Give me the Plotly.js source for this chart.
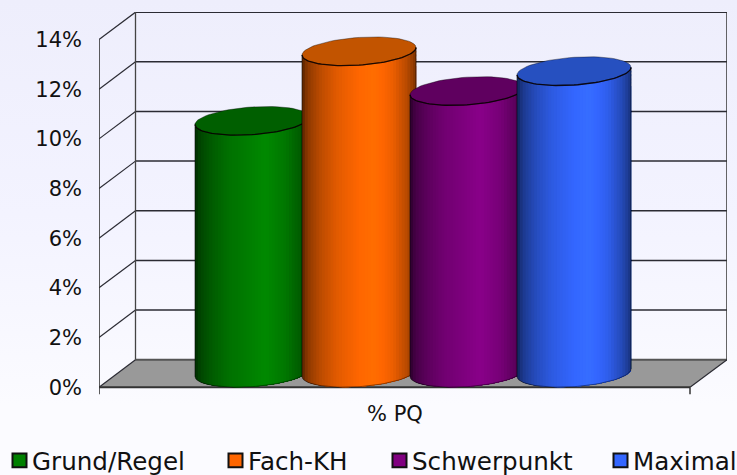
<!DOCTYPE html>
<html><head><meta charset="utf-8">
<script src="https://cdn.plot.ly/plotly-3.0.1.min.js"></script>
<style>html,body{margin:0;padding:0;width:737px;height:475px;overflow:hidden;background:linear-gradient(180deg,#eeeefc 0%,#f3f3ff 45%,#fbfbff 85%,#fbfbff 100%)}#c{width:737px;height:475px}</style>
</head><body><div id="c"></div>
<script>
// data
const categories = ['Grund/Regel','Fach-KH','Schwerpunkt','Maximal'];
const values = [10.15, 12.95, 11.35, 12.15];
const baseColors = [[0,128,0],[255,102,0],[128,0,128],[51,102,255]];
const capColors = ['#005f00','#c25400','#5f005f','#2650c0'];
const yTicks = [0,2,4,6,8,10,12,14];
const axisLabel = '% PQ';
// geometry in axis units (x axis runs in layout units, y axis in percent)
const pxPerPct = 24.89, X0 = 99, X1 = 690, XB = 727, backX = 135.5, depth = 27.5/pxPerPct;
const centers = [252, 359, 467, 574];
const rA = 55, rDx = 15, rDy = 14.4/pxPerPct, baseY = 14.4/pxPerPct;
const R = Math.hypot(rA, rDx), phi = Math.atan2(rDx, rA);
const swatchLeft = [12.5, 228.5, 392.5, 613.5], legendTextX = [33, 249, 413, 634];
const plotLeft = 99, plotW = 628, plotTop = 11.5, plotBottom = 412.5, yMin = -1;
const px = p => (p-plotLeft)/plotW, py = p => (plotBottom-p)/(plotBottom-plotTop);

const traces = [];
const line = (x,y,w,c) => traces.push({x,y,mode:'lines',line:{color:c||'#2b2b33',width:w||1.5},hoverinfo:'skip',showlegend:false,cliponaxis:false});
const poly = (x,y,fc) => traces.push({x,y,mode:'lines',fill:'toself',fillcolor:fc,line:{width:0,color:fc},hoverinfo:'skip',showlegend:false,cliponaxis:false});

// floor
poly([X0,X1,XB,backX,X0],[0,0,depth,depth,0],'#999999');
line([backX,XB],[depth,depth],2,'#555');
// back wall and left wall grid
yTicks.forEach(v=>{
  if(v>0) line([backX,XB],[v+depth,v+depth],1.5);
  if(v>0) line([X0,backX],[v,v+depth],1.2);
  line([X0-6,X0],[v,v],1.5,'#333');
});
line([backX,backX],[depth,14+depth],1.3,'#444');
line([XB,XB],[depth,14+depth],1.5,'#333');
line([X0,X0],[-7/pxPerPct,14],1.6,'#333');
line([X0,backX],[0,depth],1.2);
line([X1,XB],[0,depth],1.2);
line([X1,X1],[-7/pxPerPct,0],1.5,'#333');
line([X0,X1],[0,0],2,'#333');

// cylinders
function shade(u){
  const s=[[0,.35],[.05,.55],[.15,.72],[.3,.88],[.5,1],[.62,1.07],[.8,.92],[.92,.72],[1,.5]];
  for(let i=1;i<s.length;i++) if(u<=s[i][0]){const f=(u-s[i-1][0])/(s[i][0]-s[i-1][0]);return s[i-1][1]+f*(s[i][1]-s[i-1][1]);}
  return .5;
}
const ellX=(cx,t)=>cx+rA*Math.cos(t)+rDx*Math.sin(t);
const ellY=(cy,t)=>cy+rDy*Math.sin(t);
const N=40, M=40;
values.forEach((v,k)=>{
  const cx=centers[k], bot=baseY, top=baseY+v, c=baseColors[k];
  for(let i=0;i<N;i++){
    const u=i/N, th0=Math.acos(1-2*u);
    const ts=[];
    for(let j=0;j<=M;j++){ts.push(phi-Math.PI+th0+(Math.PI-th0)*j/M);}
    const xs=[],ys=[];
    ts.forEach(t=>{xs.push(ellX(cx,t));ys.push(ellY(bot,t));});
    ts.slice().reverse().forEach(t=>{xs.push(ellX(cx,t));ys.push(ellY(top,t));});
    xs.push(xs[0]);ys.push(ys[0]);
    const s=shade((i+.5)/N);
    poly(xs,ys,'rgb('+c.map(q=>Math.min(255,Math.round(q*s))).join(',')+')');
  }
  // cap
  const cxs=[],cys=[];
  for(let j=0;j<=72;j++){const t=j/72*2*Math.PI;cxs.push(ellX(cx,t));cys.push(ellY(top,t));}
  poly(cxs,cys,capColors[k]);
  // outlines
  const fxT=[],fyT=[],fxB=[],fyB=[];
  for(let j=0;j<=48;j++){const t=phi-Math.PI+Math.PI*j/48;fxT.push(ellX(cx,t));fyT.push(ellY(top,t));fxB.push(ellX(cx,t));fyB.push(ellY(bot,t));}
  line(fxT,fyT,1.3,'rgba(10,0,0,.85)');
  line(cxs,cys,.8,'rgba(0,0,0,.45)');
  line(fxB,fyB,1,'rgba(0,0,0,.45)');
  line([cx-R,cx-R],[ellY(bot,phi-Math.PI),ellY(top,phi-Math.PI)],1,'rgba(0,0,0,.55)');
  line([cx+R,cx+R],[ellY(bot,phi),ellY(top,phi)],1,'rgba(0,0,0,.6)');
});

// legend
const shapes = categories.map((n,k)=>({type:'rect',xref:'paper',yref:'paper',
  x0:px(swatchLeft[k]),x1:px(swatchLeft[k]+14),y0:py(468),y1:py(454),
  fillcolor:'rgb('+baseColors[k].join(',')+')',line:{color:'#111',width:2}}));
const annotations = categories.map((n,k)=>({x:px(legendTextX[k]),y:py(462),xref:'paper',yref:'paper',text:n,showarrow:false,xanchor:'left',yanchor:'middle',borderpad:0,xshift:-2,
  font:{family:'DejaVu Sans',size:24.6,color:'#111'}}));
annotations.push({x:px(394.5),y:py(415),xref:'paper',yref:'paper',text:axisLabel,showarrow:false,xanchor:'center',yanchor:'middle',font:{family:'DejaVu Sans',size:21,color:'#111'}});

const layout={width:737,height:475,margin:{l:plotLeft,r:737-plotLeft-plotW,t:plotTop,b:475-plotBottom,pad:0},
  paper_bgcolor:'rgba(0,0,0,0)',plot_bgcolor:'rgba(0,0,0,0)',showlegend:false,
  font:{family:'DejaVu Sans',color:'#111'},
  xaxis:{range:[X0,XB],showgrid:false,zeroline:false,showline:false,showticklabels:false,ticks:'',fixedrange:true},
  yaxis:{range:[yMin,yMin+(plotBottom-plotTop)/pxPerPct],showgrid:false,zeroline:false,showline:false,tickmode:'array',tickvals:yTicks,ticktext:yTicks.map(v=>v+'%'),ticks:'',ticklabelstandoff:16,tickfont:{family:'DejaVu Sans',size:21,color:'#111'},fixedrange:true},
  shapes,annotations};
Plotly.newPlot('c',traces,layout,{displayModeBar:false,staticPlot:true});
</script></body></html>
